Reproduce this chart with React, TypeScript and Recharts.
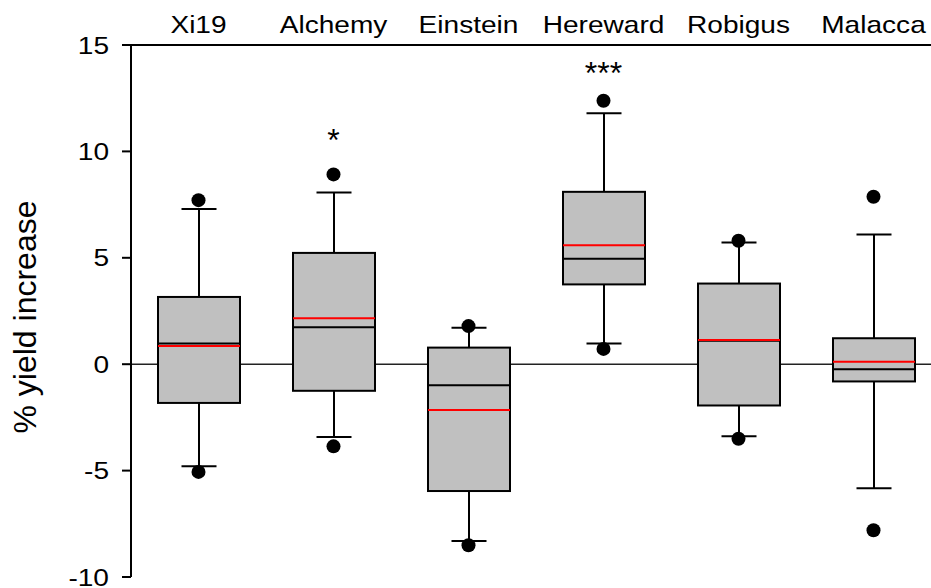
import React from "react";
import {
  Bar,
  CartesianGrid,
  ComposedChart,
  Scatter,
  XAxis,
  YAxis,
} from "recharts";

const categories = ["Xi19", "Alchemy", "Einstein", "Hereward", "Robigus", "Malacca"];
const q1 = [-1.82, -1.25, -5.96, 3.75, -1.94, -0.81];
const q3 = [3.16, 5.23, 0.78, 8.1, 3.79, 1.22];
const median = [0.97, 1.74, -0.99, 4.95, 1.1, -0.24];
const mean = [0.85, 2.16, -2.15, 5.59, 1.14, 0.11];
const whiskerLow = [-4.8, -3.42, -8.31, 0.97, -3.39, -5.83];
const whiskerHigh = [7.29, 8.07, 1.71, 11.79, 5.72, 6.1];
const outlierLow = [-5.06, -3.86, -8.51, 0.72, -3.5, -7.8];
const outlierHigh = [7.71, 8.92, 1.79, 12.38, 5.8, 7.87];
const sigText = ["", "*", "", "***", "", ""];
const sigY = [null, 10.71, null, 13.86, null, null];
const yTicks = [-10, -5, 0, 5, 10, 15];

const FONT = "'Liberation Sans', Arial, sans-serif";

const data = categories.map((name, i) => ({
  name,
  q1: q1[i],
  q3: q3[i],
  median: median[i],
  mean: mean[i],
  wLo: whiskerLow[i],
  wHi: whiskerHigh[i],
  oLo: outlierLow[i],
  oHi: outlierHigh[i],
  sig: sigText[i],
  sigY: sigY[i],
}));

function BoxShape(props: any) {
  const { x, y, width, height, payload } = props;
  const top = Math.min(y, y + height);
  const h = Math.abs(height);
  const k = h / (payload.q3 - payload.q1);
  const py = (v: number) => top + (payload.q3 - v) * k;
  const cx = x + width / 2;
  const cap = 17.5;
  return (
    <g>
      <line x1={cx} x2={cx} y1={py(payload.wHi)} y2={top} stroke="#000" strokeWidth={2} />
      <line x1={cx - cap} x2={cx + cap} y1={py(payload.wHi)} y2={py(payload.wHi)} stroke="#000" strokeWidth={2} />
      <line x1={cx} x2={cx} y1={top + h} y2={py(payload.wLo)} stroke="#000" strokeWidth={2} />
      <line x1={cx - cap} x2={cx + cap} y1={py(payload.wLo)} y2={py(payload.wLo)} stroke="#000" strokeWidth={2} />
      <rect x={x} y={top} width={width} height={h} fill="#c0c0c0" stroke="#000" strokeWidth={2} />
      <line x1={x} x2={x + width} y1={py(payload.median)} y2={py(payload.median)} stroke="#000" strokeWidth={2} />
      <line x1={x} x2={x + width} y1={py(payload.mean)} y2={py(payload.mean)} stroke="#ff0000" strokeWidth={2} />
    </g>
  );
}

const Dot = (props: any) => <circle cx={props.cx} cy={props.cy} r={7} fill="#000" />;

const SigMark = (props: any) => {
  const { cx, cy, payload } = props;
  if (!payload.sig) return <g />;
  return (
    <text x={cx} y={cy} dy="0.45em" textAnchor="middle" fontSize={32} fontFamily={FONT} fill="#000">
      {payload.sig}
    </text>
  );
};

// the original's axis text is stretched sideways a little
const CatTick = (props: any) => (
  <text
    transform={`translate(${props.x}, 33) scale(1.17, 1)`}
    textAnchor="middle"
    fontSize={24}
    fontFamily={FONT}
    fill="#000"
  >
    {props.payload.value}
  </text>
);

const YTick = (props: any) => (
  <text
    transform={`translate(${props.x}, ${props.y}) scale(1.17, 1)`}
    dy="0.355em"
    textAnchor="end"
    fontSize={24}
    fontFamily={FONT}
    fill="#000"
  >
    {props.payload.value}
  </text>
);

export default function App() {
  return (
    <div
      style={{
        position: "fixed",
        left: 0,
        top: 0,
        width: 931,
        height: 588,
        overflow: "hidden",
        background: "#fff",
      }}
    >
      <ComposedChart
        width={941}
        height={588}
        data={data}
        margin={{ top: 0, right: 0, left: 0, bottom: 11 }}
        barCategoryGap={0}
      >
        <CartesianGrid horizontal vertical={false} horizontalValues={[0]} stroke="#222" strokeWidth={1.5} />
        <XAxis
          dataKey="name"
          orientation="top"
          height={45}
          axisLine={{ stroke: "#000", strokeWidth: 2 }}
          tickLine={false}
          tick={<CatTick />}
        />
        <YAxis
          type="number"
          width={131}
          domain={[-10, 15]}
          ticks={yTicks}
          interval={0}
          axisLine={{ stroke: "#000", strokeWidth: 2 }}
          tickLine={{ stroke: "#000", strokeWidth: 2 }}
          tickSize={9}
          tickMargin={13}
          tick={<YTick />}
          label={() => (
            <text
              transform="translate(36, 317) rotate(-90)"
              textAnchor="middle"
              fontSize={32}
              fontFamily={FONT}
              fill="#000"
            >
              % yield increase
            </text>
          )}
        />
        <Bar
          dataKey={(d: any) => [d.q1, d.q3]}
          barSize={82}
          shape={<BoxShape />}
          isAnimationActive={false}
        />
        <Scatter dataKey="oHi" shape={<Dot />} isAnimationActive={false} />
        <Scatter dataKey="oLo" shape={<Dot />} isAnimationActive={false} />
        <Scatter dataKey="sigY" shape={<SigMark />} isAnimationActive={false} />
      </ComposedChart>
    </div>
  );
}
